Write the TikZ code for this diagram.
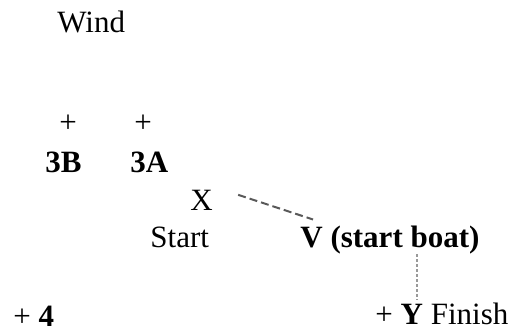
\documentclass[tikz,border=0pt]{standalone}
\usepackage{fontspec}
\setmainfont{Liberation Serif}

\begin{document}
\begin{tikzpicture}[x=0.5pt, y=-0.5pt,
    lbl/.style={anchor=base west, inner sep=0pt, font=\fontsize{15.5}{18}\selectfont},
    buoy/.style={lbl, anchor=base},
    startline/.style={draw=black!65, line width=1pt, dash pattern=on 4pt off 2pt},
    finishline/.style={draw=black!40, line width=1pt, dash pattern=on 1.5pt off 1pt}]

    % Bildgroesse festlegen
    \useasboundingbox (0,0) rectangle (512,331);

    % Wind
    \node[lbl] (wind) at (57,33) {Wind};

    % Tonnen 3B und 3A
    \node[buoy] (b3b) at (68,133) {+};
    \node[buoy] (b3a) at (143,133) {+};
    \node[lbl] (l3b) at (45,172) {\textbf{3B}};
    \node[lbl] (l3a) at (130,172) {\textbf{3A}};

    % Startlinie
    \node[lbl] (x) at (190,210) {X};
    \node[lbl] (start) at (150,247) {Start};
    \node[lbl] (v) at (300,247) {\textbf{V (start boat)}};
    \draw[startline] ([xshift=12.5pt, yshift=2.5pt]x.east) -- ([xshift=6.5pt, yshift=2.8pt]v.north west);

    % Tonne 4 und Ziel
    \node[lbl] (b4) at (13,326) {+ \textbf{4}};
    \node[lbl] (fin) at (375,324) {+ \textbf{Y} Finish};
    \draw[finishline] ([xshift=58.5pt]v.south west) -- ([xshift=21pt, yshift=1.5pt]fin.north west);
\end{tikzpicture}
\end{document}
